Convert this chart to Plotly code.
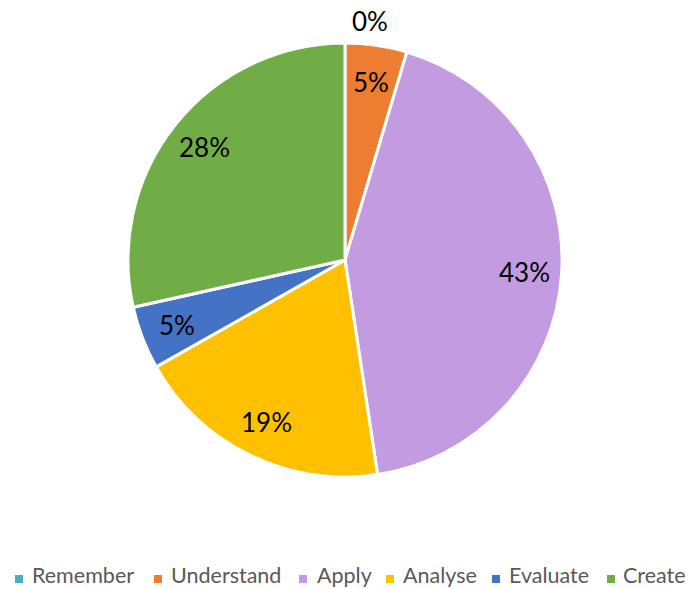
import math
import plotly.graph_objects as go

categories = ["Remember", "Understand", "Apply", "Analyse", "Evaluate", "Create"]
values = [0, 4.6, 43.0, 19.2, 4.7, 28.5]
colors = ["#4BACC6", "#ED7D31", "#C39BE1", "#FFC000", "#4472C4", "#70AD47"]

W, H = 689, 589
CX, CY, R = 345, 260, 217  # pie centre and radius in pixels (layout)
FONT = "Lato, 'Open Sans', sans-serif"

fig = go.Figure(go.Pie(
    labels=categories,
    values=values,
    sort=False,
    direction="clockwise",
    rotation=0,
    marker=dict(colors=colors, line=dict(color="white", width=3)),
    textinfo="none",
    hoverinfo="label+percent",
    showlegend=False,
    domain=dict(x=[(CX - R) / W, (CX + R) / W], y=[1 - (CY + R) / H, 1 - (CY - R) / H]),
))

# data labels placed at the mid-angle of each slice
total = sum(values)
cum = 0.0
annotations = []
for cat, v in zip(categories, values):
    mid = (cum + v / 2) / total * 2 * math.pi
    cum += v
    pct = f"{round(v / total * 100)}%"
    if v == 0:
        r = R * 1.10
        xshift = 25
    else:
        r = R * 0.83
        xshift = 0
    px = CX + r * math.sin(mid)
    py = CY - r * math.cos(mid)
    annotations.append(dict(
        x=px / W, y=1 - py / H, xref="paper", yref="paper",
        text=pct, showarrow=False, xanchor="center", yanchor="middle",
        xshift=xshift,
        font=dict(family=FONT, size=26, color="black"),
    ))

# custom legend (layout positions)
legend_sq_x = [15, 154, 299, 386, 492, 607]
legend_txt_x = [32, 171, 317, 403, 509, 623]
LEG_Y = 578
shapes = []
for cat, col, sx, tx in zip(categories, colors, legend_sq_x, legend_txt_x):
    shapes.append(dict(
        type="rect", xref="paper", yref="paper",
        x0=sx / W, x1=(sx + 8) / W, y0=1 - (LEG_Y + 5) / H, y1=1 - (LEG_Y - 3) / H,
        fillcolor=col, line=dict(width=0),
    ))
    annotations.append(dict(
        x=tx / W, y=0, xref="paper", yref="paper",
        text=cat, showarrow=False, xanchor="left", yanchor="bottom",
        xshift=-2, yshift=-1,
        font=dict(family=FONT, size=21.5, color="#595959"),
    ))

fig.update_layout(
    width=W, height=H,
    margin=dict(l=0, r=0, t=0, b=0),
    paper_bgcolor="white",
    plot_bgcolor="white",
    annotations=annotations,
    shapes=shapes,
)

fig.write_html("out.html")
